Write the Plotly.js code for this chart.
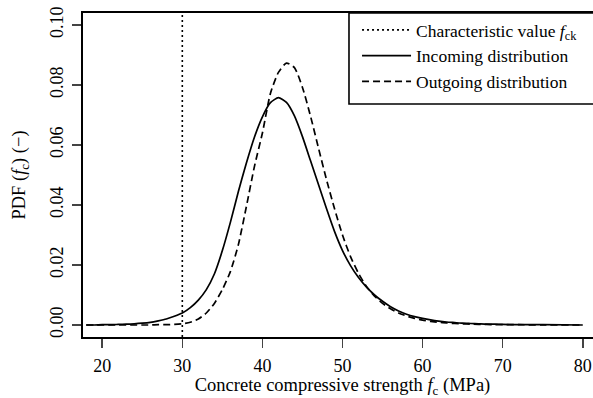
<!DOCTYPE html>
<html>
<head>
<meta charset="utf-8">
<script src="https://cdn.plot.ly/plotly-3.0.1.min.js"></script>
<style>
  html, body { margin: 0; padding: 0; background: #fff; overflow: hidden; }
  #chart { width: 610px; height: 398px; }
</style>
</head>
<body>
<div id="chart"></div>
<script>
// Concrete compressive strength grid (MPa)
const strength = [18,19,20,21,22,23,24,25,26,27,28,29,30,31,32,33,34,35,36,37,38,39,40,
  41,42,43,44,45,46,47,48,49,50,51,52,53,54,55,56,57,58,59,60,61,62,63,64,65,66,67,68,69,70,72,75,80];

// Incoming distribution PDF
const incoming = [0.0000,0.0000,0.0001,0.0001,0.0002,0.0003,0.0004,0.0006,0.0009,0.0014,0.0020,0.0029,0.0040,
  0.0058,0.0083,0.0118,0.0170,0.0248,0.0342,0.0445,0.0540,0.0626,0.0694,0.0741,0.0758,0.0742,0.0697,0.0628,
  0.0548,0.0468,0.0388,0.0312,0.0248,0.0198,0.0158,0.0126,0.0100,0.0079,0.0061,0.0047,0.0036,0.0028,0.0022,
  0.0017,0.0013,0.0010,0.0008,0.0006,0.0005,0.0004,0.0003,0.0003,0.0002,0.0001,0.0001,0.0000];

// Outgoing distribution PDF
const outgoing = [0.0000,0.0000,0.0000,0.0000,0.0000,0.0000,0.0000,0.0000,0.0000,0.0001,0.0001,0.0002,0.0004,
  0.0009,0.0020,0.0040,0.0072,0.0118,0.0178,0.0268,0.0395,0.0528,0.0640,0.0772,0.0842,0.0873,0.0858,0.0792,
  0.0697,0.0590,0.0485,0.0388,0.0300,0.0228,0.0172,0.0128,0.0096,0.0072,0.0054,0.0040,0.0030,0.0022,0.0016,
  0.0012,0.0009,0.0007,0.0005,0.0004,0.0003,0.0002,0.0002,0.0001,0.0001,0.0001,0.0000,0.0000];

// Characteristic value f_ck (MPa)
const fck = 30;

// Axis ticks
const xTicks = [20,30,40,50,60,70,80];
const yTicks = [0,0.02,0.04,0.06,0.08,0.10];
const yTickText = ["0.00","0.02","0.04","0.06","0.08","0.10"];

const xRange = [17.6, 82.4];
const yRange = [-0.004, 0.104];

const FONT = "'Liberation Serif', 'Times New Roman', serif";

const traces = [
  {
    x: [fck, fck], y: yRange, mode: "lines",
    name: "Characteristic value <i>f</i><sub>ck</sub>",
    line: {color: "#000", width: 1.6, dash: "2px,3px"}
  },
  {
    x: strength, y: incoming, mode: "lines",
    name: "Incoming distribution",
    line: {color: "#000", width: 1.7, shape: "spline", smoothing: 0.6}
  },
  {
    x: strength, y: outgoing, mode: "lines",
    name: "Outgoing distribution",
    line: {color: "#000", width: 1.7, dash: "7px,4px", shape: "spline", smoothing: 0.6}
  }
];

const layout = {
  width: 610, height: 398,
  margin: {l: 83, r: 8, t: 13, b: 61},
  paper_bgcolor: "#fff", plot_bgcolor: "#fff",
  font: {family: FONT, size: 17.5, color: "#000"},
  showlegend: true,
  legend: {
    x: 0.528, y: 1.003, xanchor: "left", yanchor: "top",
    bgcolor: "rgba(0,0,0,0)", borderwidth: 0,
    font: {family: FONT, size: 17.5, color: "#000"},
    itemwidth: 49,
    tracegroupgap: 0
  },
  shapes: [{
    type: "rect", xref: "paper", yref: "paper",
    x0: 0.5125, x1: 1.05, y0: 0.719, y1: 1.0,
    line: {color: "#000", width: 1.6}, fillcolor: "#fff", layer: "above"
  }],
  xaxis: {
    range: xRange, tickvals: xTicks, ticks: "outside", ticklen: 9, tickwidth: 1.5,
    showline: true, linewidth: 2, linecolor: "#000", mirror: true,
    showgrid: false, zeroline: false, ticklabelstandoff: 2,
    tickfont: {family: FONT, size: 18},
    title: {text: "Concrete compressive strength <i>f</i><sub>c</sub> (MPa)", font: {family: FONT, size: 18.5}, standoff: 4}
  },
  yaxis: {
    range: yRange, tickvals: yTicks, ticktext: yTickText, ticks: "outside", ticklen: 9, tickwidth: 1.5,
    tickangle: -90, ticklabelstandoff: 2,
    showline: true, linewidth: 2, linecolor: "#000", mirror: true,
    showgrid: false, zeroline: false,
    tickfont: {family: FONT, size: 18},
    title: {text: "PDF (<i>f</i><sub>c</sub>) (\u2212)", font: {family: FONT, size: 18.5}, standoff: 16}
  }
};

Plotly.newPlot("chart", traces, layout, {displayModeBar: false, staticPlot: true});
</script>
</body>
</html>
